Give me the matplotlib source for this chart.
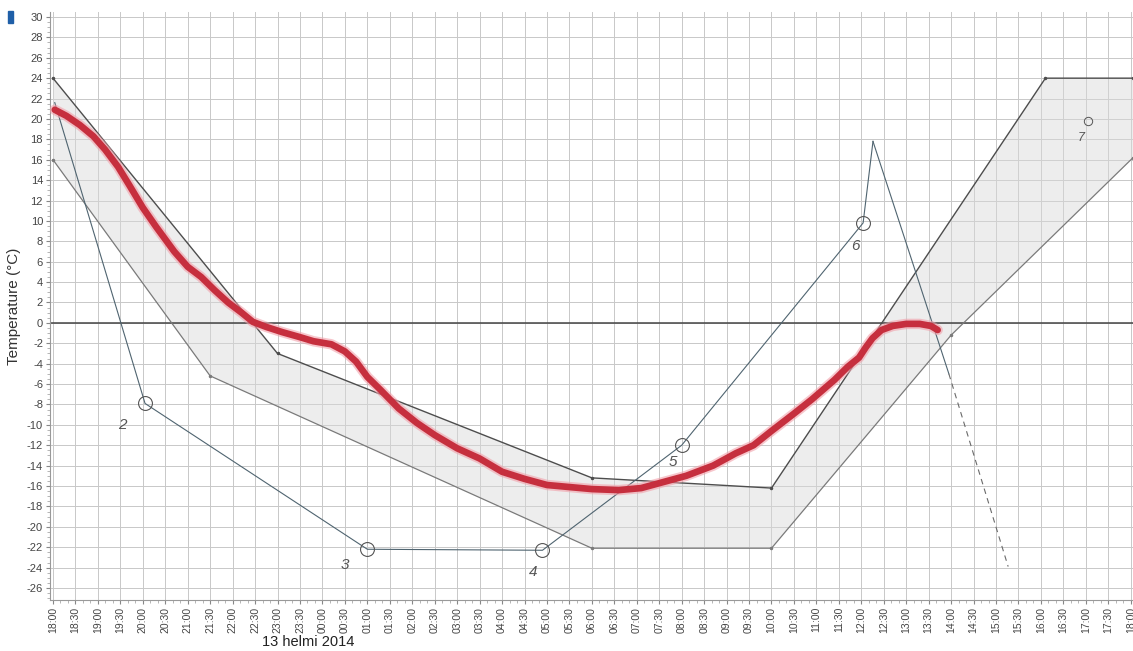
import numpy as np
import matplotlib
matplotlib.use("Agg")
import matplotlib.pyplot as plt
from matplotlib.patches import Rectangle

plt.rcParams['font.family'] = ['Liberation Sans', 'DejaVu Sans']

# hours after 18:00 (12 Feb) -> temperature (°C)
upper_t = [0.0, 5.0, 12.0, 16.0, 22.1, 24.05]
upper_T = [24.0, -3.0, -15.2, -16.2, 24.0, 24.0]

lower_t = [0.0, 3.5, 12.0, 16.0, 20.0, 24.05]
lower_T = [16.0, -5.2, -22.1, -22.1, -1.2, 16.2]

meas_t = [0.04, 2.05, 7.0, 10.9, 14.0, 18.04, 18.26]
meas_T = [21.6, -7.9, -22.2, -22.3, -12.0, 9.8, 17.8]
drop_t = [18.26, 19.95]
drop_T = [17.8, -5.0]
dash_t = [19.95, 21.27]
dash_T = [-5.0, -23.9]

circle_t = [2.05, 7.0, 10.9, 14.0, 18.04]
circle_T = [-7.9, -22.2, -22.3, -12.0, 9.8]
circle_lbl = ['2', '3', '4', '5', '6']
lbl_t = [1.54, 6.5, 10.7, 13.8, 17.86]
lbl_T = [-10.0, -23.7, -24.4, -13.6, 7.5]
c7_t, c7_T = 23.05, 19.8
l7_t, l7_T = 22.9, 18.1

red_t = [0.04, 0.3, 0.6, 0.9, 1.16, 1.45, 1.7, 2.0, 2.3, 2.7, 3.0, 3.3, 3.6, 3.9,
         4.2, 4.45, 4.75, 5.1, 5.5, 5.8, 6.2, 6.5, 6.75, 7.0, 7.3, 7.7, 8.1, 8.5,
         9.0, 9.5, 10.0, 10.5, 11.0, 11.5, 12.0, 12.6, 13.1, 13.6, 14.1, 14.7,
         15.2, 15.6, 16.0, 16.5, 16.9, 17.4, 17.7, 17.95, 18.1, 18.25, 18.45,
         18.7, 19.0, 19.3, 19.55, 19.7]
red_T = [20.9, 20.3, 19.4, 18.3, 17.0, 15.3, 13.5, 11.3, 9.4, 7.0, 5.5, 4.5, 3.2, 2.0,
         1.0, 0.1, -0.4, -0.9, -1.4, -1.8, -2.1, -2.8, -3.8, -5.3, -6.6, -8.4, -9.8, -11.0,
         -12.3, -13.3, -14.6, -15.3, -15.9, -16.1, -16.3, -16.4, -16.2, -15.6, -15.0, -14.0,
         -12.8, -12.0, -10.6, -8.9, -7.5, -5.6, -4.3, -3.4, -2.4, -1.5, -0.7,
         -0.3, -0.1, -0.1, -0.3, -0.7]

tick_hours = np.arange(0, 24.5, 0.5)
tick_labels = ["%02d:%02d" % ((18 + int(h)) % 24, 30 if h % 1 else 0) for h in tick_hours]
y_ticks = np.arange(-26, 31, 2)

fig = plt.figure(figsize=(11.33, 6.51), dpi=100)
ax = fig.add_axes([0.0441, 0.0783, 0.9559, 0.9033])

# shaded band between the two envelope lines
ax.fill(np.r_[upper_t, lower_t[::-1]], np.r_[upper_T, lower_T[::-1]],
        color='#d9d9d9', alpha=0.45, lw=0, zorder=1)

ax.axhline(0, color='#444444', lw=1.1, zorder=2)

ax.plot(upper_t, upper_T, color='#4d4d4d', lw=1.0, marker='.', ms=3, zorder=3)
ax.plot(lower_t, lower_T, color='#7a7a7a', lw=0.9, marker='.', ms=3, zorder=3)

ax.plot(meas_t, meas_T, color='#4f6470', lw=0.8, zorder=3)
ax.plot(drop_t, drop_T, color='#4f6470', lw=0.8, zorder=3)
ax.plot(dash_t, dash_T, color='#6a6a6a', lw=0.8, ls=(0, (5, 4)), zorder=3)

ax.plot(circle_t, circle_T, ls='none', marker='o', ms=10, mfc='none',
        mec='#555555', mew=0.8, zorder=4)
ax.plot([c7_t], [c7_T], ls='none', marker='o', ms=6, mfc='none',
        mec='#555555', mew=0.7, zorder=4)
for t, T, s in zip(lbl_t, lbl_T, circle_lbl):
    ax.text(t, T, s, fontsize=11, color='#555555', style='italic',
            ha='center', va='center', zorder=4)
ax.text(l7_t, l7_T, '7', fontsize=9, color='#555555', style='italic',
        ha='center', va='center', zorder=4)

# red measured curve with faint halo
ax.plot(red_t, red_T, color='#f2a0aa', lw=7.5, alpha=0.6, solid_capstyle='round', zorder=5)
ax.plot(red_t, red_T, color='#c62f3e', lw=4.8, solid_capstyle='round', zorder=6)

ax.set_xlim(-0.067, 24.05)
ax.set_ylim(-27.18, 30.49)
ax.set_xticks(tick_hours)
ax.set_xticklabels(tick_labels, rotation=90, fontsize=7.5, color='#444444')
ax.set_yticks(y_ticks)
ax.set_yticklabels([str(v) for v in y_ticks], fontsize=8, color='#444444')
ax.set_xticks(np.arange(0, 24.05, 1 / 6), minor=True)
ax.set_yticks(np.arange(-27, 30.5, 0.5), minor=True)
ax.tick_params(axis='both', which='major', length=3, color='#888888', pad=2)
ax.tick_params(axis='both', which='minor', length=2, color='#aaaaaa')
ax.grid(True, which='major', color='#c8c8c8', lw=0.7, zorder=0)
ax.set_axisbelow(True)
for side in ['top', 'right']:
    ax.spines[side].set_visible(False)
for side in ['left', 'bottom']:
    ax.spines[side].set_color('#999999')
    ax.spines[side].set_linewidth(0.8)

ax.set_ylabel('Temperature (°C)', fontsize=11, color='#333333', labelpad=4)
fig.text(262 / 1133, 1 - 649 / 651, '13 helmi 2014', fontsize=10.5,
         color='#222222', ha='left', va='bottom')

fig.patches.append(Rectangle((8 / 1133, 1 - 23 / 651), 5 / 1133, 12 / 651,
                             transform=fig.transFigure, color='#1f5fa8'))

fig.savefig('out.png', dpi=100)
